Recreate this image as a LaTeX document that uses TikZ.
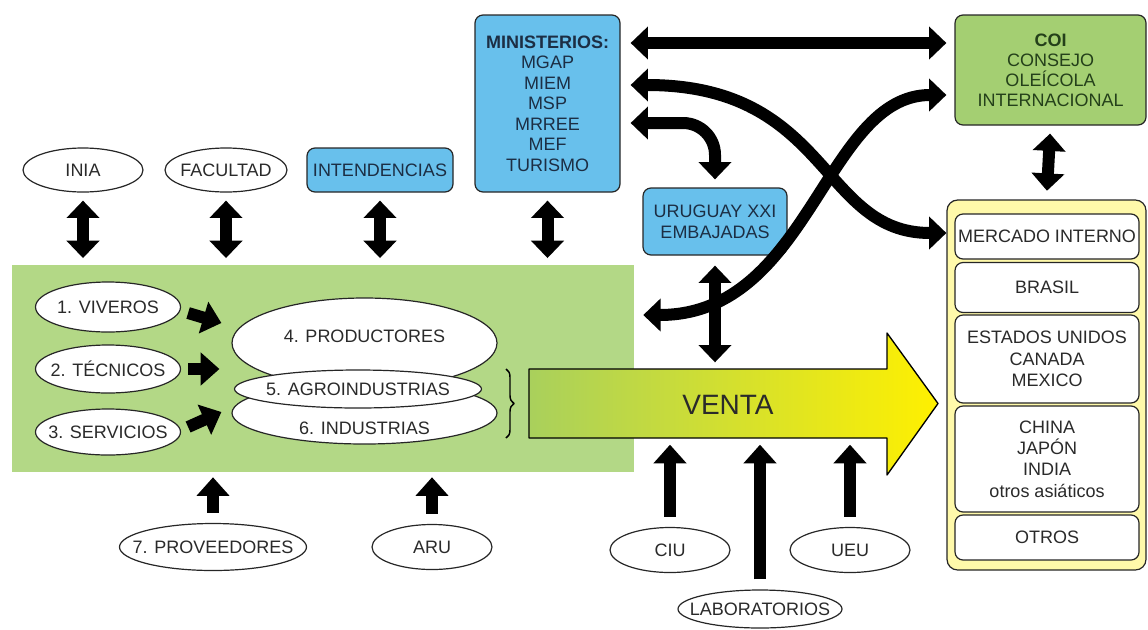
\documentclass[tikz,border=0pt]{standalone}
\usepackage{fontspec}
\setmainfont{Liberation Sans}
\usepackage{tikz}
\usetikzlibrary{arrows.meta,shapes.geometric,calc,decorations.pathreplacing}
\definecolor{verdefondo}{HTML}{B3D886}
\definecolor{verdecoi}{HTML}{A4CF72}
\definecolor{azulcaja}{HTML}{68C0EC}
\definecolor{amarillomercado}{HTML}{FFF9AA}
\definecolor{ventaverde}{HTML}{A9D05C}
\definecolor{ventaamarillo}{HTML}{FFF000}
\definecolor{texto}{HTML}{2A2A2A}
\definecolor{textocoi}{HTML}{24401A}
\definecolor{textoazul}{HTML}{1C2E44}
\newcommand{\ctr}[1]{\makebox[0pt]{#1}}
\tikzset{
  every picture/.style={line join=round},
  every node/.style={font=\fontsize{13.5}{16}\selectfont, text=texto},
  elipse/.style={ellipse, draw=black!85, line width=0.9pt, fill=white, inner sep=0pt},
  caja/.style={rectangle, rounded corners=6pt, draw=black!85, line width=0.9pt, align=center, inner sep=1pt},
  azul/.style={caja, fill=azulcaja, text=textoazul},
  pais/.style={caja, fill=white, minimum width=138pt},
  doble/.style={line width=9pt, {Triangle[width=24pt,length=13pt]}-{Triangle[width=24pt,length=13pt]}},
  simple/.style={line width=9pt, -{Triangle[width=24pt,length=14pt]}},
}

\begin{document}
\begin{tikzpicture}[x=0.75pt,y=-0.75pt]
\useasboundingbox (0,0) rectangle (1148,629);

% cadena productiva
\node[fill=verdefondo, minimum width=466.5pt, minimum height=155.25pt, inner sep=0pt] (cadena) at (323,368.5) {};

\node[elipse, minimum width=90pt, minimum height=33pt] (inia) at (83,170) {\ctr{INIA}};
\node[elipse, minimum width=91.5pt, minimum height=33pt] (facultad) at (226,170) {\ctr{FACULTAD}};
\node[azul, minimum width=109.5pt, minimum height=33pt] (intendencias) at (380,170) {INTENDENCIAS};
\node[azul, minimum width=108.75pt, minimum height=132.75pt] (minis) at (547.5,103.5)
  {\textbf{MINISTERIOS:}\\[-0.6pt] MGAP\\[-0.6pt] MIEM\\[-0.6pt] MSP\\[-0.6pt] MRREE\\[-0.6pt] MEF\\[-0.6pt] TURISMO};
\node[azul, minimum width=108pt, minimum height=50.25pt] (uruguay) at (715,221.5) {URUGUAY XXI\\ EMBAJADAS};
\node[caja, fill=verdecoi, text=textocoi, minimum width=143.25pt, minimum height=82.5pt] (coi) at (1050.5,70)
  {\textbf{COI}\\[-1pt] CONSEJO\\[-1pt] OLEÍCOLA\\[-1pt] INTERNACIONAL};

\node[elipse, minimum width=108.75pt, minimum height=37.5pt] (viveros) at (108,307) {\ctr{1. VIVEROS}};
\node[elipse, minimum width=108.75pt, minimum height=36pt] (tecnicos) at (108,369) {\ctr{2. TÉCNICOS}};
\node[elipse, minimum width=108.75pt, minimum height=34.5pt] (servicios) at (108,432) {\ctr{3. SERVICIOS}};

\node[elipse, minimum width=198.75pt, minimum height=46.5pt] (industrias) at (364.5,413) {};
\node (txtindustrias) at (364.5,428) {6. INDUSTRIAS};
\node[elipse, minimum width=198.75pt, minimum height=67.5pt] (productores) at (364.5,343) {};
\node (txtproductores) at (364.5,336) {4. PRODUCTORES};
\node[elipse, minimum width=185.25pt, minimum height=28.5pt] (agro) at (358,389) {\ctr{5. AGROINDUSTRIAS}};

\node[elipse, minimum width=140.25pt, minimum height=35.25pt] (proveedores) at (213,547) {\ctr{7. PROVEEDORES}};
\node[elipse, minimum width=90pt, minimum height=33.75pt] (aru) at (432,547) {\ctr{ARU}};
\node[elipse, minimum width=90pt, minimum height=33.75pt] (ciu) at (670,550) {\ctr{CIU}};
\node[elipse, minimum width=90pt, minimum height=33.75pt] (ueu) at (850,550) {\ctr{UEU}};
\node[elipse, minimum width=123pt, minimum height=28.5pt] (lab) at (760,609) {\ctr{LABORATORIOS}};

% mercados
\node[caja, rounded corners=8pt, fill=amarillomercado, minimum width=149.25pt, minimum height=277.5pt] (mercados) at (1046.5,385) {};
\node[pais, minimum height=33.75pt] (interno) at (1047,236.5) {MERCADO INTERNO};
\node[pais, minimum height=37.5pt] (brasil) at (1047,287.5) {BRASIL};
\node[pais, minimum height=66pt] (estados) at (1047,359) {ESTADOS UNIDOS\\ CANADA\\ MEXICO};
\node[pais, minimum height=79.5pt] (china) at (1047,459) {CHINA\\ JAPÓN\\ INDIA\\ otros asiáticos};
\node[pais, minimum height=33.75pt] (otros) at (1047,537.5) {OTROS};

% flecha de venta
\shadedraw[left color=ventaverde, right color=ventaamarillo, draw=black, line width=1pt]
  (529,369) -- (887,369) -- (887,333) -- (938,403.5) -- (887,475) -- (887,438) -- (529,438) -- cycle;
\coordinate (ventanorte) at (733,369);
\coordinate (ventasur) at (733,438);
\node[font=\fontsize{21}{24}\selectfont] (venta) at (728,405) {VENTA};
\draw[decorate, decoration={brace, amplitude=6pt}, line width=1.1pt] (506,369) -- (506,438);

% vinculos
\foreach \n in {inia,facultad,intendencias,minis}
  \draw[doble, shorten <=6pt, shorten >=5pt] (\n.south) -- (\n.south |- cadena.north);
\draw[doble, shorten <=6pt, shorten >=6.5pt] (coi.south) -- (mercados.north);
\draw[doble, shorten <=7.5pt, shorten >=5pt] (uruguay.south) -- (uruguay.south |- ventanorte);

\draw[simple] ($(viveros.east)+(7,6)$) -- ($(productores.west)+(-10,-20)$);
\draw[simple] ($(tecnicos.east)+(7,0)$) -- ($(tecnicos.east -| productores.west)+(-12,0)$);
\draw[simple] ($(servicios.east)+(7,-5)$) -- ($(productores.west)+(-10,69)$);

\foreach \n in {proveedores,aru}
  \draw[simple, shorten <=7.5pt, shorten >=3.75pt] (\n.north) -- (\n.north |- cadena.south);
\foreach \n in {ciu,lab,ueu}
  \draw[simple, shorten <=7.5pt, shorten >=5pt] (\n.north) -- (\n.north |- ventasur);

\draw[doble] ($(minis.east)+(10,-60.5)$) -- ($(coi.west)+(-8,-27)$);
\draw[doble] ($(minis.east)+(10,-18.5)$) .. controls (830,85) and (820,233) .. ($(interno.west)+(-8,-3.5)$);
\draw[doble] ($(cadena.east)+(9,-53.5)$) .. controls (810,315) and (825,95) .. ($(coi.west)+(-8,25)$);
\draw[doble, rounded corners=24pt] ($(minis.east)+(10,19.5)$) -| ($(uruguay.north)+(0,-8)$);
\end{tikzpicture}
\end{document}
